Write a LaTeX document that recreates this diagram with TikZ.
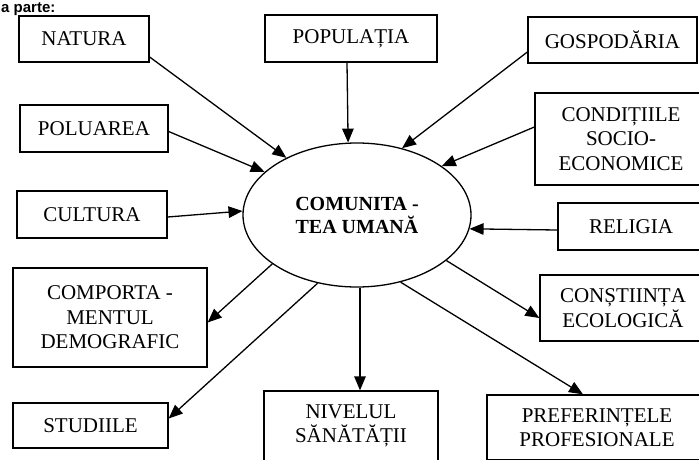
\documentclass[tikz,border=0pt]{standalone}
\usepackage{fontspec}
\setmainfont{Liberation Serif}
\newfontfamily\headfont{Liberation Sans}
\usetikzlibrary{arrows.meta,shapes.geometric,calc}
\begin{document}
\begin{tikzpicture}[x=1pt,y=-1pt,
  box/.style={draw, line width=1.3pt, inner sep=0pt, align=center,
              font=\fontsize{21}{24.5}\selectfont},
  arr/.style={line width=1.3pt, -{Triangle[length=14pt,width=11.5pt]}}]
\clip (0,0) rectangle (699,459);
\fill[white] (0,0) rectangle (699,459);
\node[anchor=base west, inner sep=0pt, font=\headfont\bfseries\fontsize{15}{15}\selectfont] (head) at (1,12) {a parte:};

\node[box, minimum width=130pt, minimum height=46pt] (natura) at (84,39) {NATURA};
\node[box, minimum width=172pt, minimum height=47pt] (popul) at (351,38.5) {POPULAȚIA};
\node[box, minimum width=169pt, minimum height=46pt] (gosp) at (612.5,40) {GOSPODĂRIA};
\node[box, minimum width=148pt, minimum height=47pt] (poluarea) at (94,128.5) {POLUAREA};
\node[box, minimum width=172pt, minimum height=92pt] (cond) at (621,139) {CONDIȚIILE\\SOCIO-\\ECONOMICE};
\node[box, minimum width=150pt, minimum height=47pt] (cultura) at (92,214.5) {CULTURA};
\node[box, minimum width=146pt, minimum height=47pt] (religia) at (631,226.5) {RELIGIA};
\node[box, minimum width=194pt, minimum height=99pt] (comport) at (110,317.5) {COMPORTA -\\MENTUL\\DEMOGRAFIC};
\node[box, minimum width=166pt, minimum height=66pt] (constiinta) at (623,308) {CONȘTIINȚA\\ECOLOGICĂ};
\node[box, minimum width=155pt, minimum height=45pt] (studiile) at (90.5,425.5) {STUDIILE};
\node[box, minimum width=174pt, minimum height=70pt] (nivel) at (351,426) {NIVELUL\\SĂNĂTĂȚII};
\node[box, minimum width=220pt, minimum height=65pt] (pref) at (597,427.5) {PREFERINȚELE\\PROFESIONALE};

\node[ellipse, draw, line width=1.3pt, minimum width=228pt, minimum height=144pt,
      inner sep=0pt, align=center, font=\bfseries\fontsize{20}{23}\selectfont]
      (ell) at (357,215) {COMUNITA -\\TEA UMANĂ};

\draw[arr] ($(natura.east)+(0,18)$) -- (ell.141.9);
\draw[arr] ($(poluarea.east)+(0,3)$) -- (ell.155.6);
\draw[arr] ($(cultura.east)+(0,2.5)$) -- (ell.178.5);
\draw[arr] ($(popul.south)+(-4,0)$) -- (ell.97.9);
\draw[arr] ($(gosp.west)+(0,12)$) -- (ell.56.5);
\draw[arr] ($(cond.west)+(0,-12)$) -- (ell.30);
\draw[arr] ($(religia.west)+(0,3.5)$) -- (ell.-7.8);

\draw[arr] (ell.210.9) -- ($(comport.east)+(0,5)$);
\draw[arr] (ell.240.5) -- ($(studiile.east)+(0,-7)$);
\draw[arr] ($(ell.south)+(3,0)$) -- ($(nivel.north)+(9,0)$);
\draw[arr] (ell.-27.6) -- ($(constiinta.west)+(0,10)$);
\draw[arr] (ell.-57.3) -- ($(pref.north)+(-14,0)$);
\end{tikzpicture}
\end{document}
